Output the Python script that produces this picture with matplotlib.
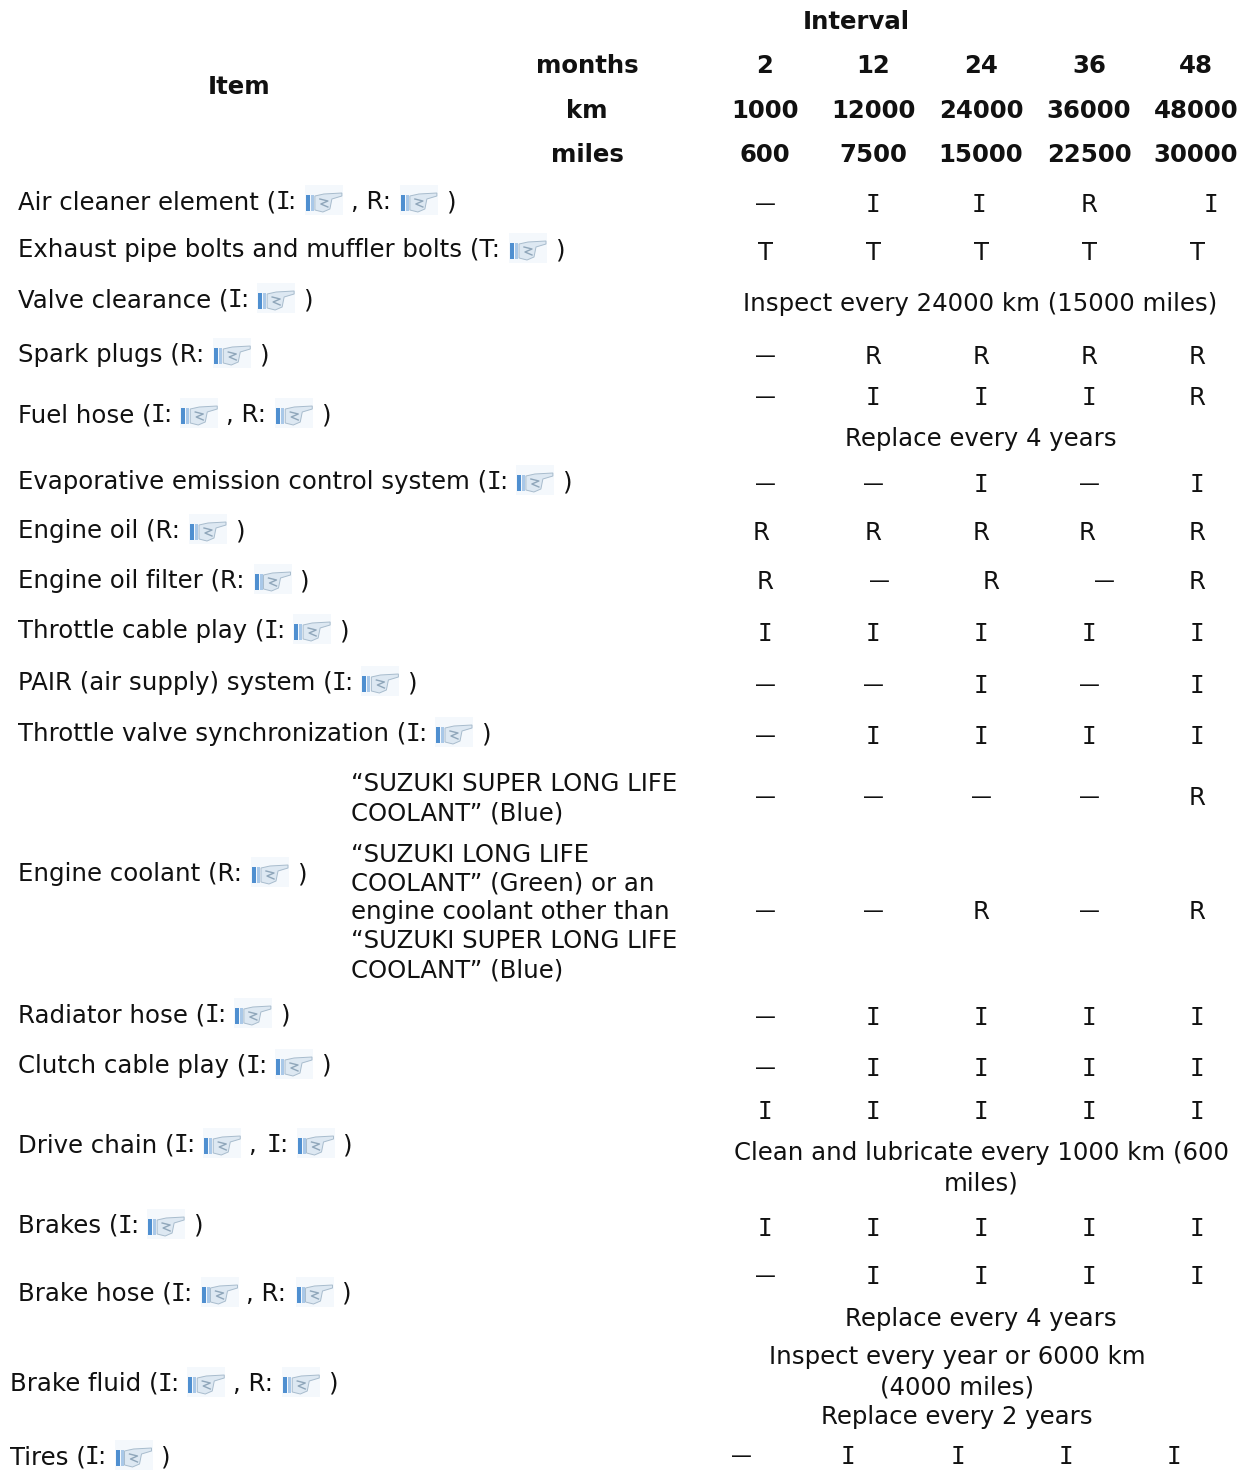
import matplotlib
matplotlib.use('Agg')
import matplotlib.pyplot as plt
from matplotlib.patches import Rectangle, Polygon

# @ marks where a hand icon goes
interval_title = 'Interval'
item_title = 'Item'
header_names = ['months', 'km', 'miles']
months = ['2', '12', '24', '36', '48']
km = ['1000', '12000', '24000', '36000', '48000']
miles = ['600', '7500', '15000', '22500', '30000']

items = [
    'Air cleaner element (I: @ , R: @ )',
    'Exhaust pipe bolts and muffler bolts (T: @ )',
    'Valve clearance (I: @ )',
    'Spark plugs (R: @ )',
    'Fuel hose (I: @ , R: @ )',
    'Evaporative emission control system (I: @ )',
    'Engine oil (R: @ )',
    'Engine oil filter (R: @ )',
    'Throttle cable play (I: @ )',
    'PAIR (air supply) system (I: @ )',
    'Throttle valve synchronization (I: @ )',
    'Engine coolant (R: @ )',
    'Radiator hose (I: @ )',
    'Clutch cable play (I: @ )',
    'Drive chain (I: @ , I: @ )',
    'Brakes (I: @ )',
    'Brake hose (I: @ , R: @ )',
    'Brake fluid (I: @ , R: @ )',
    'Tires (I: @ )',
]

coolant_blue = ['“SUZUKI SUPER LONG LIFE', 'COOLANT” (Blue)']
coolant_green = ['“SUZUKI LONG LIFE', 'COOLANT” (Green) or an', 'engine coolant other than',
                 '“SUZUKI SUPER LONG LIFE', 'COOLANT” (Blue)']

air_cleaner = ['—', 'I', 'I', 'R', 'I']
exhaust = ['T', 'T', 'T', 'T', 'T']
spark = ['—', 'R', 'R', 'R', 'R']
fuel_hose = ['—', 'I', 'I', 'I', 'R']
evap = ['—', '—', 'I', '—', 'I']
oil = ['R', 'R', 'R', 'R', 'R']
oil_filter = ['R', '—', 'R', '—', 'R']
throttle_cable = ['I', 'I', 'I', 'I', 'I']
pair = ['—', '—', 'I', '—', 'I']
throttle_valve = ['—', 'I', 'I', 'I', 'I']
coolant_1 = ['—', '—', '—', '—', 'R']
coolant_2 = ['—', '—', 'R', '—', 'R']
radiator = ['—', 'I', 'I', 'I', 'I']
clutch = ['—', 'I', 'I', 'I', 'I']
chain = ['I', 'I', 'I', 'I', 'I']
brakes = ['I', 'I', 'I', 'I', 'I']
brake_hose = ['—', 'I', 'I', 'I', 'I']
tires = ['—', 'I', 'I', 'I', 'I']

valve_note = 'Inspect every 24000 km (15000 miles)'
replace_note = 'Replace every 4 years'
chain_note = ['Clean and lubricate every 1000 km (600', 'miles)']
fluid_note = ['Inspect every year or 6000 km', '(4000 miles)', 'Replace every 2 years']

BODY = 17.6
BOLD = 17.6
INK = '#111111'

fig = plt.figure(figsize=(12.45, 14.7), dpi=100)
ax = fig.add_axes([0, 0, 1, 1])
ax.set_xlim(0, 1245)
ax.set_ylim(1470, 0)
ax.axis('off')
renderer = fig.canvas.get_renderer()


def draw_icon(x, y):
    ax.add_patch(Rectangle((x, y - 16), 38, 30, color='#f4f8fc', lw=0))
    ax.add_patch(Rectangle((x + 1, y - 6), 4, 16, color='#4f8fd0', lw=0))
    ax.add_patch(Rectangle((x + 6, y - 6), 3, 16, color='#a9c8e8', lw=0))
    ax.add_patch(Polygon([(x + 10, y - 5), (x + 19, y - 7), (x + 37, y - 8), (x + 37, y - 5),
                          (x + 27, y - 2), (x + 25, y + 8), (x + 18, y + 11), (x + 10, y + 9)],
                         closed=True, facecolor='#dde8f2', edgecolor='#a8bccd', lw=0.7))
    ax.plot([x + 15, x + 23, x + 16, x + 23], [y - 2, y, y + 3, y + 6], color='#8fa6ba', lw=1)


def put_text(x, y, s):
    t = ax.text(x, y, s, fontsize=BODY, color=INK, va='center', ha='left')
    return t.get_window_extent(renderer).x1


def draw_item(x, y, label):
    # text pieces one after another, icon between them
    parts = label.split('@')
    for i, part in enumerate(parts):
        part = part.strip()
        if 'I:' in part:
            before = part.split('I:')[0]
            if before:
                x = put_text(x, y + 1, before)
            if before.endswith(' '):
                x += 3
            ax.text(x + 6.5, y + 1, 'I', fontsize=BODY, color=INK, family='DejaVu Sans Mono', va='center', ha='center')
            x = put_text(x + 11.5, y + 1, ':')
        else:
            x = put_text(x, y + 1, part)
        if i < len(parts) - 1:
            x += 9
            draw_icon(x, y)
            x += 38 + 8


def draw_cells(y, cells, xs=(765, 873, 981, 1089, 1197)):
    for x, c in zip(xs, cells):
        if c == '—':
            ax.text(x, y, c, fontsize=15, color=INK, ha='center', va='center')
        elif c == 'I':
            # mono I has the bars the original font draws
            ax.text(x, y + 1, c, fontsize=BODY, color=INK, family='DejaVu Sans Mono', ha='center', va='center')
        else:
            ax.text(x, y + 1, c, fontsize=BODY, color=INK, ha='center', va='center')


def draw_note(x, y, s):
    ax.text(x, y + 1, s, fontsize=BODY, color=INK, ha='center', va='center')


# header
ax.text(856, 22, interval_title, fontsize=BOLD, fontweight='bold', color=INK, ha='center', va='center')
ax.text(239, 87, item_title, fontsize=BOLD, fontweight='bold', color=INK, ha='center', va='center')
for y, name, vals in zip([66, 111, 155], header_names, [months, km, miles]):
    ax.text(587, y, name, fontsize=BOLD, fontweight='bold', color=INK, ha='center', va='center')
    for x, v in zip([765, 873, 981, 1089, 1196], vals):
        ax.text(x, y, v, fontsize=BOLD, fontweight='bold', color=INK, ha='center', va='center')

# item labels
item_y = [201, 249, 299, 354, 414, 481, 530, 580, 630, 682, 733, 873, 1014, 1065, 1144, 1225, 1293, 1383, 1456]
for i, (y, label) in enumerate(zip(item_y, items)):
    draw_item(10 if i >= 17 else 18, y, label)

# coolant sub rows
for y, s in zip([783, 812], coolant_blue):
    ax.text(351, y + 1, s, fontsize=BODY, color=INK, va='center')
for y, s in zip([854, 882, 911, 940, 969], coolant_green):
    ax.text(351, y + 1, s, fontsize=BODY, color=INK, va='center')

# cells
draw_cells(204, air_cleaner, (765, 873, 979, 1089, 1211))
draw_cells(252, exhaust)
draw_note(980, 303, valve_note)
draw_cells(356, spark)
draw_cells(397, fuel_hose)
draw_note(981, 438, replace_note)
draw_cells(484, evap)
draw_cells(532, oil, (761, 873, 981, 1087, 1197))
draw_cells(581, oil_filter, (765, 879, 991, 1104, 1197))
draw_cells(633, throttle_cable)
draw_cells(685, pair)
draw_cells(736, throttle_valve)
draw_cells(797, coolant_1)
draw_cells(911, coolant_2)
draw_cells(1017, radiator)
draw_cells(1068, clutch)
draw_cells(1111, chain)
for y, s in zip([1152, 1183], chain_note):
    draw_note(981, y, s)
draw_cells(1228, brakes)
draw_cells(1276, brake_hose)
draw_note(981, 1318, replace_note)
for y, s in zip([1356, 1386, 1416], fluid_note):
    draw_note(957, y, s)
draw_cells(1456, tires, (741, 848, 958, 1066, 1174))

fig.savefig('out.png', dpi=100)
